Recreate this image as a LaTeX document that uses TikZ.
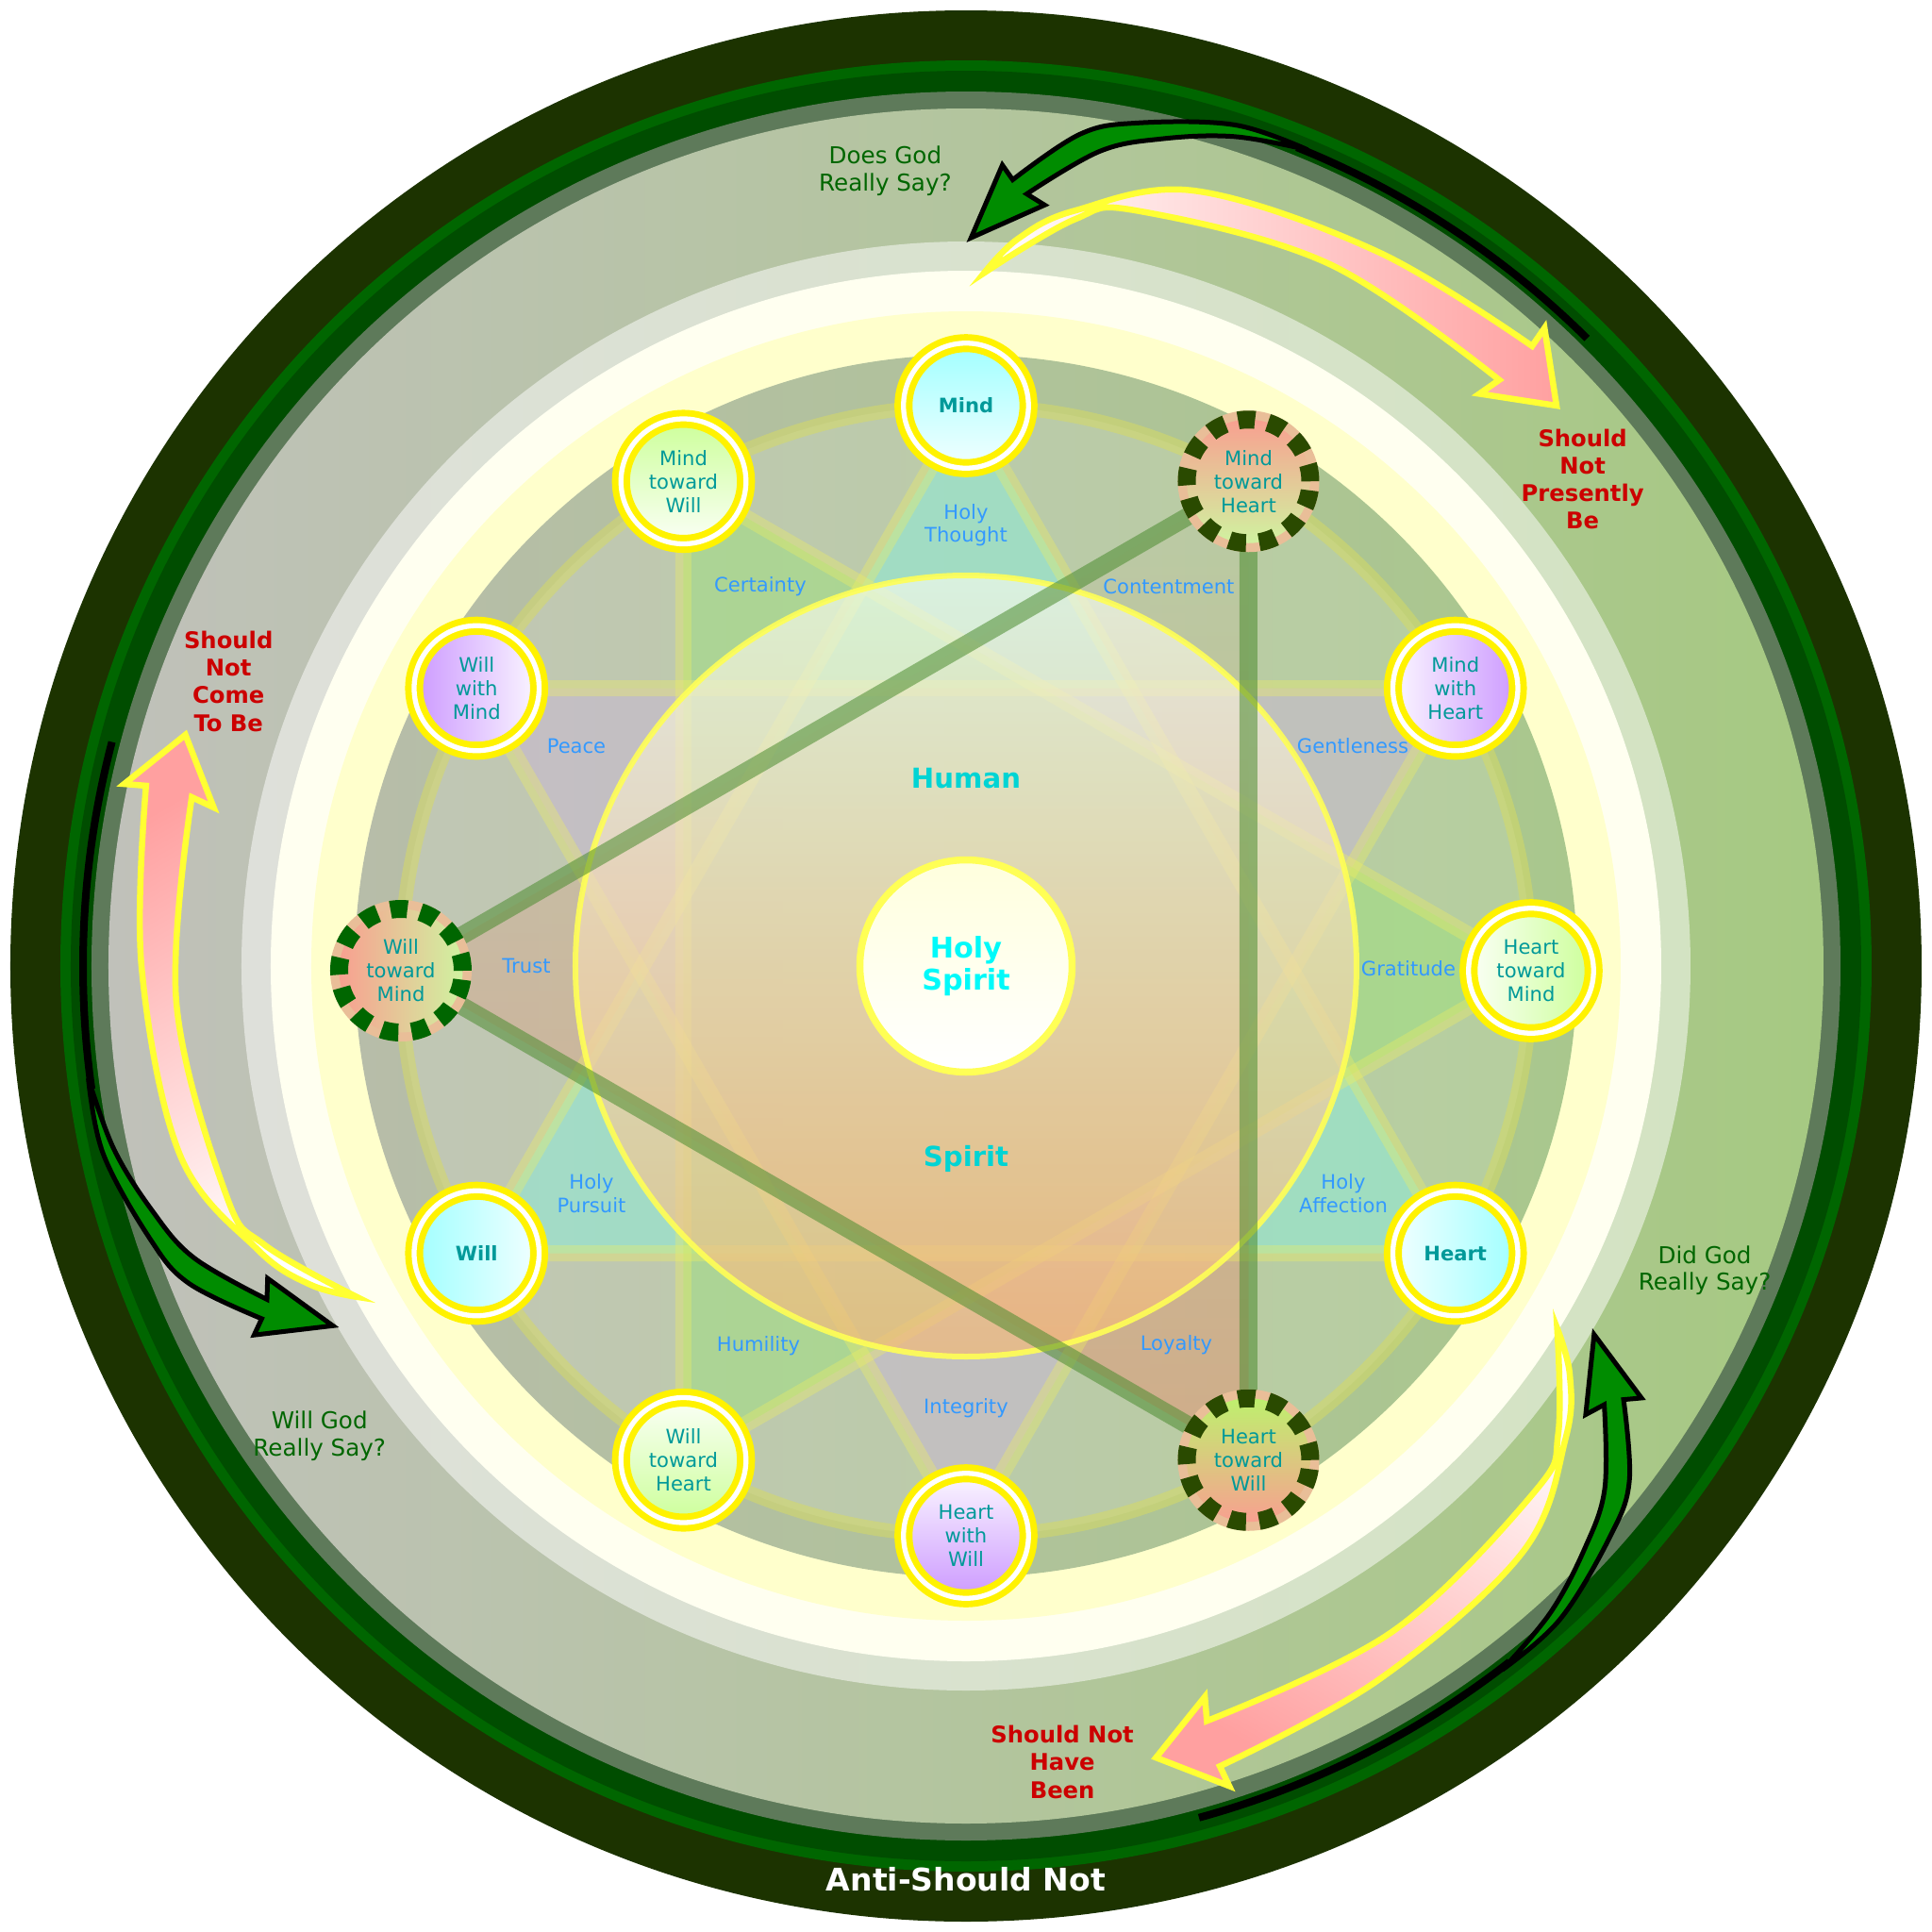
\documentclass[tikz,border=0pt]{standalone}
\usepackage{fontspec}
\setmainfont{DejaVu Sans}
\usepackage{xcolor}
\usepackage{tikz}
\usetikzlibrary{fadings}
\definecolor{ringdark}{HTML}{1C3300}
\definecolor{ringgreen}{HTML}{006600}
\definecolor{ringmid}{HTML}{004D00}
\definecolor{ringgray}{HTML}{5E7A5A}
\definecolor{diskleft}{HTML}{C0C1BA}
\definecolor{diskright}{HTML}{A6C982}
\definecolor{innerleft}{HTML}{B7BDA9}
\definecolor{innerright}{HTML}{A9C78D}
\definecolor{bandwhite}{HTML}{FFFFF0}
\definecolor{bandyellow}{HTML}{FFFFCC}
\definecolor{nodetext}{HTML}{009999}
\definecolor{virtueblue}{HTML}{3399FF}
\definecolor{saygreen}{HTML}{006600}
\definecolor{shouldred}{HTML}{CC0000}
\definecolor{humancyan}{HTML}{00D4D4}
\definecolor{spiritcyan}{HTML}{00FAFA}
\definecolor{cyanfill}{HTML}{A0FFFF}
\definecolor{cyanlight}{HTML}{F2FFFF}
\definecolor{purplefill}{HTML}{CC99FF}
\definecolor{greenfill}{HTML}{CCFF99}
\definecolor{greenpale}{HTML}{D0F2A0}
\definecolor{greenlime}{HTML}{BEF06E}
\definecolor{salmonfill}{HTML}{F8A090}
\definecolor{ringpeach}{HTML}{E9BE98}
\definecolor{dashdark}{HTML}{2A4A00}
\definecolor{dashgreen}{HTML}{006600}
\definecolor{holyteal}{HTML}{90E8D4}
\definecolor{mauve}{HTML}{C8B8D2}
\definecolor{certgreen}{HTML}{9CE07C}
\definecolor{loyalorange}{HTML}{E09878}
\definecolor{linegreen}{HTML}{4C8C30}
\definecolor{hexyellow}{HTML}{F0F060}
\definecolor{ringyellow}{HTML}{D8DC60}
\definecolor{bigtop}{HTML}{F2FAEC}
\definecolor{bigbottom}{HTML}{F2B878}
\definecolor{bigedge}{HTML}{FFFF55}
\definecolor{spirittop}{HTML}{FFFFDD}
\definecolor{arrowgreen}{HTML}{008C00}
\definecolor{arrowpink}{HTML}{FFA0A0}
\definecolor{arrowyellow}{HTML}{FFFF33}
\pgfdeclarelayer{back}
\pgfdeclarelayer{fills}
\pgfdeclarelayer{lines}
\pgfdeclarelayer{over}
\pgfsetlayers{back,fills,lines,over,main}

\begin{document}
\begin{tikzpicture}[
    nodebox/.style={circle, minimum size=1.325cm, inner sep=0pt, align=center,
                    text=nodetext, font=\fontsize{6}{7.1}\selectfont,
                    draw=yellow, line width=0.069cm, double=white, double distance=0.053cm},
    keybox/.style={nodebox, font=\fontsize{6}{7.1}\selectfont\bfseries},
    dashbox/.style={circle, minimum size=1.31cm, inner sep=0pt, align=center,
                    text=nodetext, font=\fontsize{6}{7.1}\selectfont,
                    line width=0.19cm, dash pattern=on 0.18cm off 0.14cm,
                    preaction={draw=ringpeach, solid, line width=0.19cm}},
    virtue/.style={font=\fontsize{6}{6.9}\selectfont, text=virtueblue, align=center},
    saylabel/.style={font=\fontsize{7}{8.2}\selectfont, text=saygreen, align=center},
    shouldlabel/.style={font=\fontsize{6.9}{8.3}\selectfont\bfseries, text=shouldred, align=center},
    bigword/.style={font=\fontsize{8.3}{9.7}\selectfont\bfseries, text=humancyan},
    spiritbox/.style={circle, minimum size=2.25cm, inner sep=0pt, align=center,
                      top color=spirittop, bottom color=white, draw=bigedge, line width=0.075cm,
                      font=\fontsize{8.6}{9.7}\selectfont\bfseries, text=spiritcyan},
    ringline/.style={draw=ringyellow, draw opacity=0.5, line width=0.15cm},
    hexline/.style={draw=hexyellow, draw opacity=0.35, line width=0.17cm},
    sinline/.style={draw=linegreen, draw opacity=0.55, line width=0.19cm},
    pinkarrow/.style={draw=arrowyellow, line width=0.065cm, left color=white, right color=arrowpink},
    greenarrow/.style={draw=black, line width=0.05cm, fill=arrowgreen},
    tailline/.style={draw=black, line width=0.08cm}
]
\useasboundingbox (-10.24,-10.24) rectangle (10.24,10.24);

% Outer rings and bands
\begin{pgfonlayer}{back}
\fill[white] (-10.24,-10.24) rectangle (10.24,10.24);
\fill[ringdark]  (0,0) circle (10.13);
\fill[ringgreen] (0,0) circle (9.60);
\fill[ringmid]   (0,0) circle (9.49);
\fill[ringgray]  (0,0) circle (9.27);
\shade[left color=diskleft, right color=diskright] (0,0) circle (9.09);
\fill[white, fill opacity=0.5] (0,0) circle (7.68);
\fill[bandwhite]  (0,0) circle (7.37);
\fill[bandyellow] (0,0) circle (6.94);
\shade[left color=innerleft, right color=innerright] (0,0) circle (6.48);
\fill[white, fill opacity=0.15] (0,-0.05) circle (5.99);
\end{pgfonlayer}

% Twelve nodes on the ring
\begin{scope}[yshift=-0.05cm]
\node[keybox, top color=cyanfill, bottom color=cyanlight] (mind) at (90:5.99) {Mind};
\node[dashbox, draw=dashdark, top color=salmonfill, bottom color=greenpale] (mtheart) at (60:5.99) {Mind\\toward\\Heart};
\node[nodebox, left color=white!92!purplefill, right color=purplefill] (mwheart) at (30:5.99) {Mind\\with\\Heart};
\node[nodebox, left color=white!92!greenfill, right color=greenfill] (htmind) at (0:5.99) {Heart\\toward\\Mind};
\node[keybox, left color=cyanlight, right color=cyanfill] (heart) at (-30:5.99) {Heart};
\node[dashbox, draw=dashdark, top color=greenlime, bottom color=salmonfill] (htwill) at (-60:5.99) {Heart\\toward\\Will};
\node[nodebox, top color=white!92!purplefill, bottom color=purplefill] (hwwill) at (-90:5.99) {Heart\\with\\Will};
\node[nodebox, top color=white!92!greenfill, bottom color=greenfill] (wtheart) at (-120:5.99) {Will\\toward\\Heart};
\node[keybox, left color=cyanfill, right color=cyanlight] (will) at (-150:5.99) {Will};
\node[dashbox, draw=dashgreen, left color=salmonfill, right color=greenpale] (wtmind) at (180:5.99) {Will\\toward\\Mind};
\node[nodebox, left color=purplefill, right color=white!92!purplefill] (wwmind) at (150:5.99) {Will\\with\\Mind};
\node[nodebox, top color=greenfill, bottom color=white!92!greenfill] (mtwill) at (120:5.99) {Mind\\toward\\Will};
\end{scope}

% Triangle fills
\begin{pgfonlayer}{fills}
\fill[holyteal, fill opacity=0.6] (mind.center) -- (heart.center) -- (will.center) -- cycle;
\fill[mauve, fill opacity=0.55] (mwheart.center) -- (hwwill.center) -- (wwmind.center) -- cycle;
\fill[certgreen, fill opacity=0.5] (mtwill.center) -- (wtheart.center) -- (htmind.center) -- cycle;
\fill[loyalorange, fill opacity=0.6, path fading=north] (mtheart.center) -- (htwill.center) -- (wtmind.center) -- cycle;
\end{pgfonlayer}

% Ring and star lines
\begin{pgfonlayer}{lines}
\draw[ringline] (0,-0.05) circle (5.99);
\draw[hexline] (mind.center) -- (heart.center) -- (will.center) -- cycle;
\draw[hexline] (mwheart.center) -- (hwwill.center) -- (wwmind.center) -- cycle;
\draw[hexline] (mtwill.center) -- (wtheart.center) -- (htmind.center) -- cycle;
\end{pgfonlayer}

% Human / Spirit circle and the green triangle
\begin{pgfonlayer}{over}
\shade[top color=bigtop, bottom color=bigbottom, fill opacity=0.7] (0,0) circle (4.14);
\draw[bigedge, line width=0.06cm, draw opacity=0.9] (0,0) circle (4.14);
\draw[sinline] (mtheart.center) -- (htwill.center) -- (wtmind.center) -- cycle;
\end{pgfonlayer}

\node[spiritbox] (hs) at (0,0) {Holy\\Spirit};
\node[bigword] (human) at (0,1.99) {Human};
\node[bigword] (spirit) at (0,-2.04) {Spirit};

% Virtues
\foreach \x/\y/\t [count=\i] in {0/4.67/{Holy\\Thought}, 2.15/4.02/Contentment, 4.10/2.33/Gentleness,
    4.69/-0.03/Gratitude, 4.00/-2.41/{Holy\\Affection}, 2.23/-4.02/Loyalty, 0/-4.69/Integrity,
    -2.20/-4.03/Humility, -3.97/-2.41/{Holy\\Pursuit}, -4.66/0/Trust, -4.13/2.33/Peace, -2.18/4.02/Certainty}
  \node[virtue] (virtue\i) at (\x,\y) {\t};

% Arrows, three times round
\foreach \r in {0,120,240}{
  \pgfmathsetmacro\sa{90+\r}
  \begin{scope}[rotate=\r]
    \path[pinkarrow, shading angle=\sa] plot[smooth, tension=0.6] coordinates {(88.5:7.35) (85.9:7.73) (81.8:8.09) (73.5:8.57) (60:8.74) (47.6:8.90)}
      -- (47.8:9.13) -- (43.5:8.63) -- (48.1:8.15)
      -- plot[smooth, tension=0.6] coordinates {(47.7:8.40) (62.6:8.38) (77.2:8.21) (81.7:8.00) (88.5:7.35)} -- cycle;
    \draw[tailline] (45.3:9.36) arc[start angle=45.3, end angle=68, radius=9.36];
    \path[greenarrow] plot[smooth, tension=0.6] coordinates {(67.3:9.38) (72.3:9.36) (78.5:9.12) (82.2:8.90) (86.6:8.35)}
      -- (87.4:8.50) -- (89.6:7.72) -- (84.1:8.11)
      -- plot[smooth, tension=0.6] coordinates {(85.5:8.21) (80.7:8.75) (76.7:9.01) (72.1:9.24) (67.3:9.38)} -- cycle;
  \end{scope}
}

% Questions and warnings
\foreach \a/\t [count=\i] in {95.8/{Does God\\Really Say?}, 216/{Will God\\Really Say?}, 337.6/{Did God\\Really Say?}}
  \node[saylabel] (say\i) at (\a:8.47) {\t};
\node[shouldlabel] (should1) at (38.3:8.33) {Should\\Not\\Presently\\Be};
\node[shouldlabel] (should2) at (158.9:8.38) {Should\\Not\\Come\\To Be};
\node[shouldlabel] (should3) at (276.9:8.50) {Should Not\\Have\\Been};

\node[font=\fontsize{9.4}{11}\selectfont\bfseries, text=white, anchor=base] (anti) at (0,-9.80) {Anti-Should Not};

\end{tikzpicture}
\end{document}
